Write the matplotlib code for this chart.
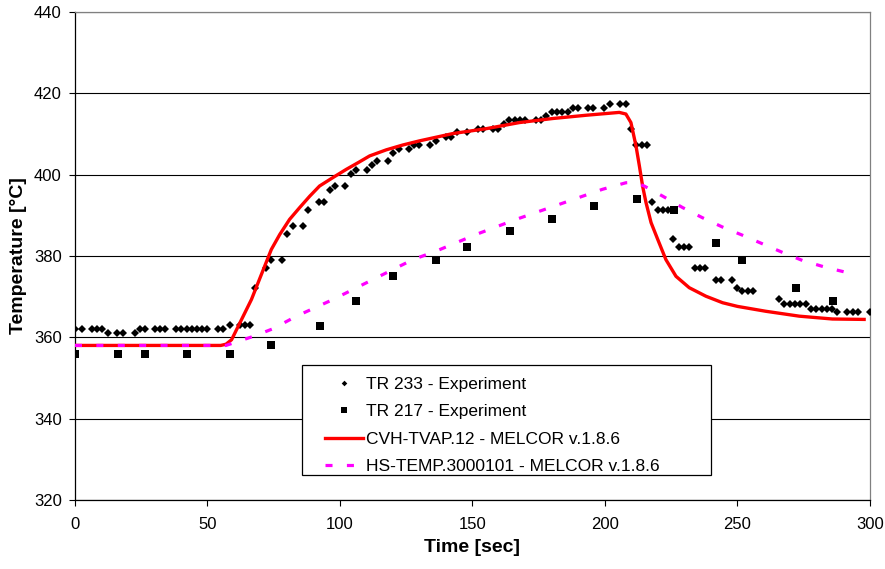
import numpy as np
import matplotlib
matplotlib.use('Agg')
import matplotlib.pyplot as plt
from matplotlib.patches import Rectangle

plt.rcParams['font.family'] = ['Liberation Sans', 'DejaVu Sans']

# ── Експериментальні дані ───────────────────────────────────────────────────
tr233_t = [0, 2.5, 6.3, 8.2, 10.1, 12.6, 15.7, 18.2, 22.6, 24.5, 26.4, 30.2, 32.0, 33.9,
           38.3, 40.2, 42.1, 44.0, 45.9, 47.8, 49.7, 54.1, 56.0, 58.6, 62.3, 64.2, 66.1,
           68.1, 72.0, 73.9, 78.0, 80.2, 82.3, 86.1, 88.1, 92.0, 94.0, 96.1, 98.1, 102.0,
           104.0, 106.0, 110.1, 112.1, 114.1, 118.1, 120.0, 122.1, 126.0, 128.0, 130.0,
           133.8, 136.1, 140.1, 142.0, 144.1, 148.0, 152.0, 153.9, 157.9, 159.8, 161.8,
           163.7, 165.9, 168.0, 170.0, 173.8, 175.7, 177.8, 179.9, 181.9, 183.8, 185.9,
           187.8, 189.7, 193.5, 195.6, 199.8, 201.9, 205.8, 207.9, 209.8, 211.8, 214.0,
           216.0, 217.8, 219.9, 221.8, 223.9, 225.8, 227.8, 229.9, 231.8, 234.0, 235.8,
           237.8, 241.9, 243.8, 247.9, 249.8, 251.9, 253.8, 255.7, 265.7, 267.6, 269.8,
           271.8, 273.6, 275.8, 277.7, 279.8, 281.8, 283.9, 285.8, 287.7, 291.5, 293.6,
           295.6, 300.0]
tr233_T = [362, 362, 362, 362, 362, 361, 361, 361, 361, 362, 362, 362, 362, 362,
           362, 362, 362, 362, 362, 362, 362, 362, 362, 363, 363, 363, 363,
           372.2, 377.1, 379.1, 379.1, 385.3, 387.3, 387.3, 391.2, 393.3, 393.3, 396.1, 397.2, 397.2,
           400.1, 401.1, 401.1, 402.3, 403.4, 403.4, 405.3, 406.2, 406.2, 407.2, 407.2,
           407.2, 408.2, 409.3, 409.3, 410.4, 410.4, 411.3, 411.3, 411.3, 411.3, 412.4,
           413.4, 413.4, 413.4, 413.4, 413.4, 413.4, 414.5, 415.3, 415.3, 415.3, 415.3,
           416.4, 416.4, 416.4, 416.4, 416.3, 417.3, 417.3, 417.3, 411.2, 407.2, 407.2,
           407.2, 393.3, 391.2, 391.2, 391.2, 384.1, 382.2, 382.2, 382.2, 377.1, 377.1,
           377.1, 374.2, 374.2, 374.2, 372.2, 371.3, 371.3, 371.3, 369.3, 368.2, 368.2,
           368.2, 368.2, 368.2, 367.0, 367.0, 367.0, 367.0, 367.0, 366.2, 366.2, 366.2,
           366.2, 366.2]

tr217_t = [0, 16.3, 26.4, 42.1, 58.4, 74.1, 92.3, 106, 120, 136.1, 148, 164, 180,
           195.7, 212, 226.2, 241.9, 251.7, 272, 286.1]
tr217_T = [356, 356, 356, 356, 356, 358.2, 362.9, 369, 375, 379.1, 382.3, 386.1, 389.2,
           392.2, 394.1, 391.2, 383.1, 379.1, 372.2, 369.0]

# ── Розрахунок MELCOR ───────────────────────────────────────────────────────
cvh_t = [0, 55.0, 57.0, 59.1, 61.6, 64.1, 66.6, 69.1, 71.6, 74.1, 77.3, 81.0, 84.8,
         88.6, 92.3, 97.4, 102.4, 107.0, 111.2, 117.5, 123.8, 130.0, 142.6, 155.2,
         167.7, 180.3, 192.9, 205.4, 207.9, 209.8, 211.7, 213.0, 214.2, 215.5, 217.4,
         219.9, 223.0, 226.8, 231.8, 238.1, 244.4, 250.0, 260.7, 273.3, 285.8, 297.8]
cvh_T = [358, 358, 358.3, 359.4, 362.7, 366.0, 369.3, 373.4, 377.5, 381.6, 385.3, 389.0, 391.9,
         394.7, 397.2, 399.3, 401.3, 403.0, 404.6, 406.1, 407.3, 408.3, 410.1, 411.3,
         412.8, 413.8, 414.6, 415.3, 414.9, 412.8, 407.1, 402.1, 397.2, 393.1, 388.2,
         384.1, 379.1, 375.0, 372.2, 370.1, 368.5, 367.6, 366.4, 365.2, 364.5, 364.4]

hs_t = [0, 57, 59.7, 67.2, 74.7, 83.6, 97.4, 112.4, 127.5, 136.3, 151.4, 166.5, 182.8,
        199.1, 207.9, 211, 214.8, 221.8, 229.3, 236.8, 244.4, 251.9, 259.4, 266.9,
        274.5, 283.3, 291.5]
hs_T = [358, 358, 358.6, 360.2, 362.1, 365.2, 369.3, 374.2, 379.1, 381.2, 385.3, 389.0, 392.7,
        396.4, 398.0, 398.1, 397.2, 394.7, 391.9, 389.4, 387.1, 385.1, 383.0, 380.9,
        378.9, 377.2, 375.9]

fig = plt.figure(figsize=(8.85, 5.69), dpi=100)
fig.patch.set_facecolor('white')
ax = fig.add_axes([0.0847, 0.1213, 0.8983, 0.8577])

ax.plot(tr233_t, tr233_T, linestyle='none', marker='D', ms=3.8, mew=0,
        color='black', label='TR 233 - Experiment', zorder=3)
ax.plot(tr217_t, tr217_T, linestyle='none', marker='s', ms=5.2, mew=0,
        color='black', label='TR 217 - Experiment', zorder=3)
ax.plot(cvh_t, cvh_T, color='#FF0000', lw=2.4, solid_joinstyle='round',
        label='CVH-TVAP.12 - MELCOR v.1.8.6', zorder=4)
ax.plot(hs_t, hs_T, color='#FF00FF', lw=2.3, dashes=(2.2, 4.5),
        label='HS-TEMP.3000101 - MELCOR v.1.8.6', zorder=5)

ax.set_xlim(0, 300)
ax.set_ylim(320, 440)
ax.set_xticks(np.arange(0, 301, 50))
ax.set_yticks(np.arange(320, 441, 20))
ax.grid(axis='y', color='black', linewidth=0.8)
ax.set_axisbelow(True)

for sp in ['left', 'bottom']:
    ax.spines[sp].set_color('black')
    ax.spines[sp].set_linewidth(0.9)
for sp in ['top', 'right']:
    ax.spines[sp].set_color('#808080')
    ax.spines[sp].set_linewidth(0.9)

ax.tick_params(axis='both', direction='out', length=4, width=0.8,
               labelsize=12, colors='black')
ax.tick_params(axis='x', pad=8)
ax.tick_params(axis='y', pad=5.5)

ax.set_xlabel('Time [sec]', fontsize=14, fontweight='bold', labelpad=5)
ax.set_ylabel('Temperature [°C]', fontsize=14, fontweight='bold', labelpad=5)

# рамка легенди окремо, щоб відступи збігались
ax.add_patch(Rectangle((0.286, 0.051), 0.514, 0.226, transform=ax.transAxes,
                       facecolor='white', edgecolor='black', lw=0.9, zorder=6))
leg = ax.legend(loc='upper left', bbox_to_anchor=(0.314, 0.252),
                borderaxespad=0, borderpad=0, fontsize=12.5, numpoints=1,
                markerscale=0.75, handlelength=2.24, handletextpad=0.17,
                labelspacing=0.70, frameon=False)
leg.set_zorder(7)

fig.savefig('out.png', dpi=100, facecolor='white')
